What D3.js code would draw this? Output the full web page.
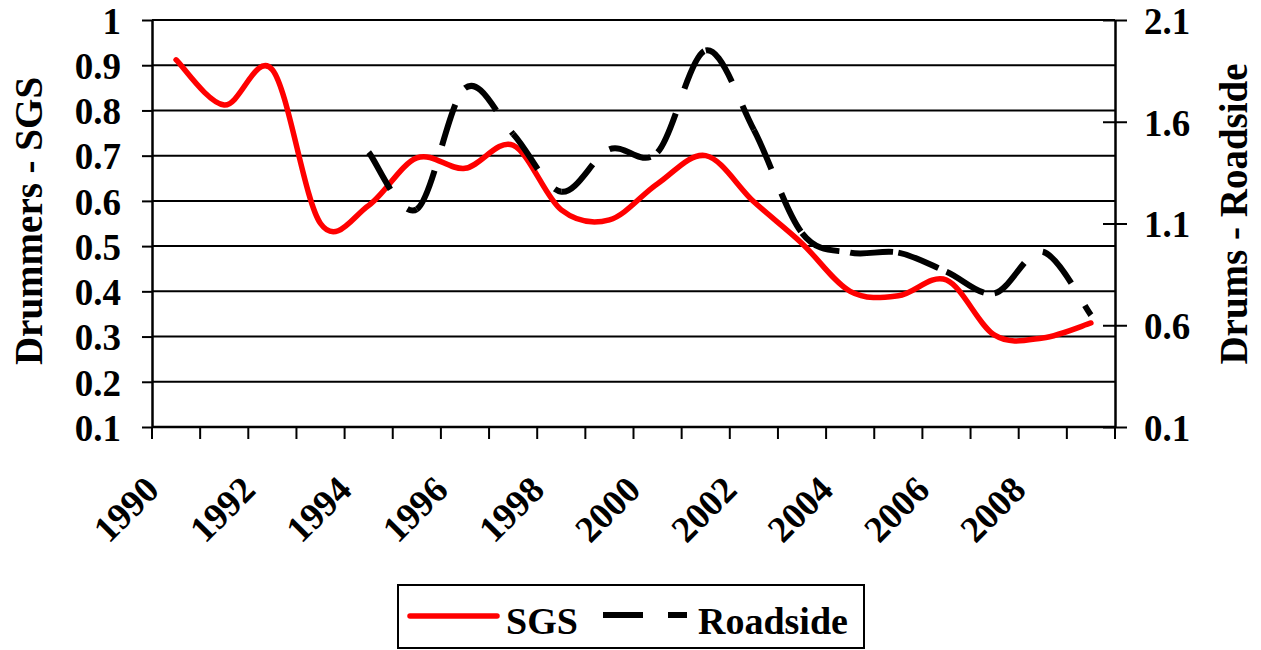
<!DOCTYPE html>
<html><head><meta charset="utf-8">
<script src="https://cdn.jsdelivr.net/npm/d3@7"></script>
<style>
body{margin:0;background:#fff}
svg text{font-family:"Liberation Serif","Times New Roman",serif;font-weight:bold;fill:#000}
</style>
</head><body>
<svg id="c" width="1261" height="650"></svg>
<script>
const categories = ["1990","1991","1992","1993","1994","1995","1996","1997","1998","1999","2000","2001","2002","2003","2004","2005","2006","2007","2008","2009"];
const sgsValues = [0.912,0.812,0.89,0.55,0.59,0.695,0.672,0.723,0.58,0.558,0.638,0.70,0.598,0.506,0.40,0.39,0.425,0.303,0.297,0.33];
const roadsideValues = [null,null,null,null,1.45,1.17,1.765,1.54,1.256,1.465,1.45,1.95,1.56,1.053,0.957,0.957,0.863,0.757,0.961,0.65];
const leftTicks = [0.1,0.2,0.3,0.4,0.5,0.6,0.7,0.8,0.9,1];
const rightTicks = [0.1,0.6,1.1,1.6,2.1];
const xTickLabels = ["1990","1992","1994","1996","1998","2000","2002","2004","2006","2008"];
const seriesNames = ["SGS","Roadside"];
const axisTitles = ["Drummers - SGS","Drums - Roadside"];

const svg = d3.select("#c");
const L = 152, R = 1115, T = 20, B = 427;
const FS = 37;

const x = d3.scaleBand().domain(categories).range([L, R]).padding(0);
const cx = c => x(c) + x.bandwidth() / 2;
const yL = d3.scaleLinear().domain([0.1, 1]).range([B, T]);
const yR = d3.scaleLinear().domain([0.1, 2.1]).range([B, T]);

// gridlines
svg.append("g").selectAll("line").data(leftTicks).join("line")
  .attr("x1", L).attr("x2", R)
  .attr("y1", d => yL(d)).attr("y2", d => yL(d))
  .attr("stroke", "#000").attr("stroke-width", 2);

// left axis
const gL = svg.append("g").attr("transform", `translate(${L},0)`)
  .call(d3.axisLeft(yL).tickValues(leftTicks).tickSize(10).tickSizeOuter(0).tickPadding(21).tickFormat(d3.format("")));
gL.select(".domain").attr("stroke-width", 2.5);
gL.selectAll(".tick line").attr("stroke-width", 2);
gL.selectAll("text").attr("font-size", FS).attr("dy", "0.36em");

// right axis
const gR = svg.append("g").attr("transform", `translate(${R},0)`)
  .call(d3.axisRight(yR).tickValues(rightTicks).tickSize(12).tickSizeOuter(0).tickPadding(17).tickFormat(d3.format("")));
gR.select(".domain").attr("stroke-width", 2.5);
gR.selectAll(".tick line").attr("x1", -12).attr("stroke-width", 2);
gR.selectAll("text").attr("font-size", FS).attr("dy", "0.36em");

// bottom axis
svg.append("line").attr("x1", L).attr("x2", R).attr("y1", B).attr("y2", B)
  .attr("stroke", "#000").attr("stroke-width", 2.5);
const bounds = categories.map(c => x(c)).concat([x(categories[categories.length - 1]) + x.bandwidth()]);
svg.append("g").selectAll("line").data(bounds).join("line")
  .attr("x1", d => d).attr("x2", d => d).attr("y1", B).attr("y2", B + 12)
  .attr("stroke", "#000").attr("stroke-width", 2);
svg.append("g").selectAll("text").data(xTickLabels).join("text")
  .attr("transform", d => `translate(${cx(d) - 15},492) rotate(-45)`)
  .attr("text-anchor", "end").attr("font-size", FS).text(d => d);

// axis titles
svg.append("text").attr("transform", "translate(42,221) rotate(-90)")
  .attr("text-anchor", "middle").attr("font-size", 39).text(axisTitles[0]);
svg.append("text").attr("transform", "translate(1247,214) rotate(-90)")
  .attr("text-anchor", "middle").attr("font-size", 39).text(axisTitles[1]);

// smoothed segment builder (uniform Catmull-Rom, Excel-like)
function segmentPaths(values, yScale) {
  const pts = categories.map((c, i) => values[i] == null ? null : [cx(c), yScale(values[i])]);
  const out = [];
  for (let i = 0; i < pts.length - 1; i++) {
    const p1 = pts[i], p2 = pts[i + 1];
    if (!p1 || !p2) continue;
    const p0 = pts[i - 1] || p1;
    const p3 = pts[i + 2] || p2;
    const p = d3.path();
    p.moveTo(p1[0], p1[1]);
    p.bezierCurveTo(
      p1[0] + (p2[0] - p0[0]) / 6, p1[1] + (p2[1] - p0[1]) / 6,
      p2[0] - (p3[0] - p1[0]) / 6, p2[1] - (p3[1] - p1[1]) / 6,
      p2[0], p2[1]);
    out.push(p.toString());
  }
  return out;
}

// SGS series (solid red)
svg.append("path").attr("d", segmentPaths(sgsValues, yL).join(""))
  .attr("fill", "none").attr("stroke", "#ff0000").attr("stroke-width", 5.5)
  .attr("stroke-linecap", "round").attr("stroke-linejoin", "round");

// Roadside series (black long dash, pattern restarts at each point)
svg.append("g").selectAll("path").data(segmentPaths(roadsideValues, yR)).join("path")
  .attr("d", d => d).attr("fill", "none").attr("stroke", "#000").attr("stroke-width", 6)
  .attr("stroke-dasharray", "43,26");

// legend
const lg = svg.append("g");
lg.append("rect").attr("x", 398).attr("y", 585).attr("width", 466).attr("height", 63)
  .attr("fill", "#fff").attr("stroke", "#000").attr("stroke-width", 2);
lg.append("line").attr("x1", 410).attr("x2", 497).attr("y1", 616).attr("y2", 616)
  .attr("stroke", "#ff0000").attr("stroke-width", 5.5).attr("stroke-linecap", "round");
lg.append("text").attr("x", 506).attr("y", 634).attr("font-size", 38).text(seriesNames[0]);
lg.append("line").attr("x1", 603).attr("x2", 687).attr("y1", 615).attr("y2", 615)
  .attr("stroke", "#000").attr("stroke-width", 6).attr("stroke-dasharray", "40,25");
lg.append("text").attr("x", 698).attr("y", 634).attr("font-size", 38).text(seriesNames[1]);
</script>
</body></html>
